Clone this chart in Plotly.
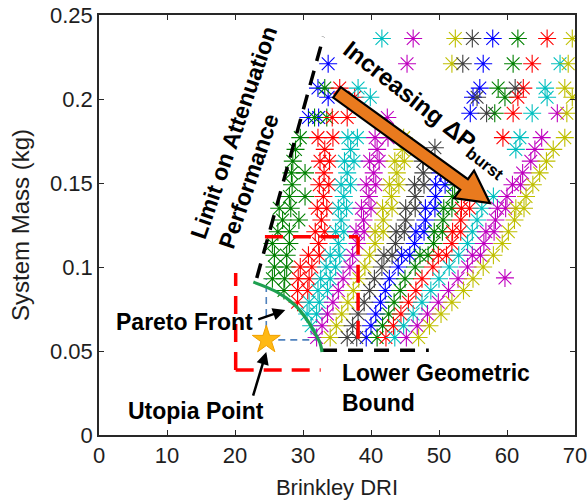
import math
import plotly.graph_objects as go

# ---------------- data ----------------
blue_pts = [(39.3, .058), (40.0, .065), (40.7, .072), (41.4, .079), (42.1, .086), (42.7, .093),
            (44.0, .100), (44.5, .107), (45.7, .107), (46.4, .114), (46.6, .121),
            (47.8, .121), (48.0, .128), (48.0, .135), (49.4, .135), (49.5, .142),
            (49.5, .149), (50.9, .149), (50.2, .156), (30.8, .189), (32.3, .189),
            (54.6, .1915), (33.7, .201), (55.0, .201), (32.2, .2065), (56.0, .2065), (33.7, .221),
            (56.5, .221), (57.9, .236)]
green_pts = [(40.9, .058), (41.7, .065), (42.6, .072), (43.4, .079), (27.2, .086), (44.3, .086),
             (25.5, .093), (27.3, .093), (45.0, .093), (25.8, .100), (27.6, .100), (46.5, .100),
             (25.8, .107), (27.6, .107), (47.2, .107), (48.4, .107), (25.5, .114),
             (28.0, .114), (49.2, .114), (26.3, .121), (28.0, .121),
             (49.3, .121), (50.5, .121), (27.0, .128), (29.4, .128),
             (50.6, .128), (26.5, .135), (28.2, .135), (50.7, .135),
             (51.9, .135), (28.0, .142), (30.3, .142), (52.0, .142),
             (28.4, .149), (52.3, .149), (28.3, .156), (30.3, .156),
             (28.5, .163), (28.9, .170), (29.6, .177), (31.7, .189),
             (33.5, .189), (58.2, .1915), (59.7, .201), (33.2, .2065), (58.7, .2065), (60.9, .221),
             (61.6, .236)]
red_pts = [(42.2, .058), (43.3, .065), (44.4, .072), (29.2, .079), (45.5, .079), (29.2, .086),
           (30.7, .086), (46.6, .086), (29.3, .093), (30.9, .093), (47.5, .093), (29.6, .100),
           (31.3, .100), (49.1, .100), (30.8, .107), (32.4, .107), (49.9, .107), (51.1, .107),
           (32.3, .114), (51.9, .114), (31.8, .121), (33.2, .121),
           (52.0, .121), (53.2, .121), (32.7, .128), (53.2, .128),
           (32.1, .135), (33.5, .135), (53.3, .135), (54.5, .135), (33.0, .142),
           (54.5, .142), (32.4, .149), (33.8, .149), (33.1, .156),
           (32.5, .163), (33.9, .163), (33.2, .170), (32.2, .177), (34.4, .177),
           (59.4, .177), (34.3, .189), (36.5, .189), (60.9, .1915), (37.6, .201), (61.6, .201),
           (35.4, .2065), (62.4, .2065), (63.7, .221), (65.9, .236)]
cyan_pts = [(43.5, .058), (31.2, .065), (44.8, .065), (30.6, .072), (32.0, .072), (46.2, .072),
            (30.9, .079), (32.4, .079), (47.5, .079), (32.2, .086), (33.6, .086), (48.8, .086),
            (32.6, .093), (34.0, .093), (50.0, .093), (33.4, .100), (34.8, .100), (51.5, .100),
            (34.0, .107), (35.4, .107), (52.9, .107), (35.2, .114), (54.2, .114),
            (34.8, .121), (36.0, .121), (54.9, .121), (35.6, .128), (55.6, .128),
            (35.2, .135), (36.4, .135), (56.3, .135), (36.0, .142),
            (58.0, .142), (35.6, .149), (37.0, .149), (36.5, .156), (36.1, .163),
            (37.5, .163), (37.0, .170), (61.3, .170), (36.6, .177), (38.0, .177),
            (61.9, .177), (63.7, .1915), (39.9, .201), (65.9, .201), (38.1, .2065), (65.6, .2065),
            (67.8, .221), (41.6, .236)]
magenta_pts = [(32.0, .058), (45.2, .058), (32.8, .065), (46.8, .065), (33.6, .072), (48.3, .072),
               (34.4, .079), (49.9, .079), (35.2, .086), (51.4, .086), (35.9, .093), (52.8, .093),
               (36.9, .100), (54.2, .100), (37.3, .107), (54.9, .107), (56.1, .107), (38.0, .114),
               (56.6, .114), (37.8, .121), (39.0, .121), (56.9, .121),
               (58.1, .121), (38.9, .128), (58.3, .128), (38.6, .135),
               (40.0, .135), (58.6, .135), (59.8, .135), (39.7, .142), (60.0, .142),
               (39.3, .149), (40.7, .149), (60.8, .149), (62.0, .149), (40.4, .156),
               (62.3, .156), (39.8, .163), (41.2, .163), (63.5, .163),
               (40.9, .170), (64.1, .170), (40.6, .177), (42.5, .177), (65.1, .177),
               (42.4, .189), (67.4, .1915), (45.3, .221), (46.2, .236), (59.7, .0935)]
yellow_pts = [(34.0, .058), (47.0, .058), (34.9, .065), (48.6, .065), (35.7, .072), (50.3, .072),
              (36.6, .079), (51.9, .079), (37.4, .086), (53.6, .086), (38.2, .093), (55.0, .093),
              (39.1, .100), (56.5, .100), (39.8, .107), (58.0, .107), (40.6, .114),
              (59.3, .114), (40.6, .121), (41.8, .121), (60.2, .121), (41.8, .128),
              (61.1, .128), (41.7, .135), (43.1, .135), (61.3, .135), (62.5, .135),
              (43.0, .142), (62.8, .142), (42.7, .149), (44.1, .149),
              (63.8, .149), (43.8, .156), (64.8, .156), (43.5, .163), (44.9, .163),
              (65.8, .163), (44.6, .170), (66.8, .170), (44.8, .177), (68.5, .177),
              (68.8, .1915), (69.6, .201), (68.5, .2065), (51.9, .221), (69.0, .221), (52.4, .236),
              (69.6, .236)]
black_pts = [(36.5, .058), (37.9, .058), (37.3, .065), (38.1, .072), (39.0, .079), (39.8, .086),
             (40.5, .093), (41.6, .100), (41.9, .107), (43.1, .107), (43.6, .114),
             (43.7, .121), (44.9, .121), (45.1, .128), (45.1, .135), (46.5, .135),
             (46.5, .142), (46.4, .149), (47.8, .149), (47.7, .156),
             (47.6, .163), (49.4, .171), (57.0, .1915), (55.6, .201), (61.2, .2065), (53.5, .221),
             (54.9, .236)]

pareto_x = [22.7, 26.2, 28.8, 30.6, 31.5, 32.5, 32.8]
pareto_y = [0.091, 0.085, 0.0774, 0.0685, 0.0625, 0.0548, 0.0494]
utopia = (24.6, 0.0566)
limit_line = ([23.2, 33.0], [0.0935, 0.237])
lower_bound = ([32.8, 48.5], [0.0505, 0.0505])
red_box = (20.1, 38.1, 0.0387, 0.118)

x_ticks = [0, 10, 20, 30, 40, 50, 60, 70]
y_ticks = [0, 0.05, 0.1, 0.15, 0.2, 0.25]
y_tick_text = ["0", "0.05", "0.1", "0.15", "0.2", "0.25"]

series = [
    ("b", blue_pts, "rgb(0,0,255)"),
    ("g", green_pts, "rgb(0,128,0)"),
    ("r", red_pts, "rgb(255,0,0)"),
    ("c", cyan_pts, "rgb(0,191,191)"),
    ("m", magenta_pts, "rgb(191,0,191)"),
    ("y", yellow_pts, "rgb(191,191,0)"),
    ("k", black_pts, "rgb(64,64,64)"),
]

fig = go.Figure()
for name, pts, col in series:
    fig.add_trace(go.Scatter(
        x=[p[0] for p in pts], y=[p[1] for p in pts], mode="markers", name=name,
        marker=dict(symbol="asterisk-open", size=15, color=col, line=dict(color=col, width=1.1)),
        showlegend=False, hoverinfo="skip"))

# red dashed box (partially drawn)
x0, x1, y0, y1 = red_box
red_dash = dict(color="rgb(255,0,0)", width=3.5, dash="18px,10px")
for xs, ys in [([x0, x0], [y0, 0.0964]), ([x0, 32.6], [y0, y0]),
               ([24.4, x1], [y1, y1]), ([x1, x1], [y1, 0.055])]:
    fig.add_trace(go.Scatter(x=xs, y=ys, mode="lines", line=red_dash, showlegend=False, hoverinfo="skip"))

# blue dashed guides from the utopia point
blue_dash = dict(color="rgb(79,129,189)", width=1.6, dash="7px,5px")
fig.add_trace(go.Scatter(x=[utopia[0], utopia[0]], y=[utopia[1], pareto_y[0] + 0.002], mode="lines",
                         line=blue_dash, showlegend=False, hoverinfo="skip"))
fig.add_trace(go.Scatter(x=[utopia[0], 31.9], y=[utopia[1], utopia[1]], mode="lines",
                         line=blue_dash, showlegend=False, hoverinfo="skip"))

# black dashed bounds
fig.add_trace(go.Scatter(x=limit_line[0], y=limit_line[1], mode="lines",
                         line=dict(color="black", width=3.5, dash="15px,10px"), showlegend=False, hoverinfo="skip"))
fig.add_trace(go.Scatter(x=lower_bound[0], y=lower_bound[1], mode="lines",
                         line=dict(color="black", width=3.5, dash="15px,11px"), showlegend=False, hoverinfo="skip"))

# pareto front
fig.add_trace(go.Scatter(x=pareto_x, y=pareto_y, mode="lines", line=dict(color="rgb(30,160,80)", width=3.2, shape="spline"),
                         showlegend=False, hoverinfo="skip"))

# utopia star
fig.add_trace(go.Scatter(x=[utopia[0]], y=[utopia[1]], mode="markers",
                         marker=dict(symbol="star", size=21, color="rgb(255,185,20)", line=dict(color="rgb(240,160,0)", width=1)),
                         showlegend=False, hoverinfo="skip"))

# big orange arrow (computed in pixel space)
SX, SY = 476 / 70.0, 420 / 0.25
A = (35.0, 0.204)
B = (57.5, 0.138)
ax_, ay_ = A[0] * SX, A[1] * SY
bx_, by_ = B[0] * SX, B[1] * SY
Ln = math.hypot(bx_ - ax_, by_ - ay_)
ux, uy = (bx_ - ax_) / Ln, (by_ - ay_) / Ln
nx, ny = -uy, ux
hw, HW, HL = 6.5, 17.0, 32.0
bsx, bsy = bx_ - ux * HL, by_ - uy * HL
poly = [(ax_ + nx * hw, ay_ + ny * hw), (bsx + nx * hw, bsy + ny * hw), (bsx + nx * HW, bsy + ny * HW),
        (bx_, by_), (bsx - nx * HW, bsy - ny * HW), (bsx - nx * hw, bsy - ny * hw), (ax_ - nx * hw, ay_ - ny * hw)]
path = "M " + " L ".join(f"{px / SX:.4f},{py / SY:.5f}" for px, py in poly) + " Z"
fig.add_shape(type="path", path=path, xref="x", yref="y", fillcolor="rgb(233,122,30)",
              line=dict(color="black", width=2.2), layer="above")

FONT = "Liberation Sans, Arial, sans-serif"
bold = dict(family=FONT, size=23, color="black")
fig.add_annotation(x=21.9, y=0.1775, xref="x", yref="y", text="<b>Limit on Attenuation<br>Performance</b>",
                   showarrow=False, textangle=-71, align="left", font=bold)
fig.add_annotation(x=47.9, y=0.1935, xref="x", yref="y", text="<b>Increasing \u0394P<sub>burst</sub></b>",
                   showarrow=False, textangle=38, font=dict(family=FONT, size=24, color="black"))
fig.add_annotation(x=27.4, y=0.0744, ax=23.2, ay=0.0685, xref="x", yref="y", axref="x", ayref="y",
                   text="", showarrow=True, arrowhead=2, arrowsize=1, arrowwidth=2.5, arrowcolor="black")
fig.add_annotation(x=12.5, y=0.0673, xref="x", yref="y", text="<b>Pareto Front</b>", showarrow=False, font=bold)
fig.add_annotation(x=24.6, y=0.0494, ax=22.6, ay=0.0226, xref="x", yref="y", axref="x", ayref="y",
                   text="", showarrow=True, arrowhead=2, arrowsize=1, arrowwidth=2.5, arrowcolor="black")
fig.add_annotation(x=14.3, y=0.0143, xref="x", yref="y", text="<b>Utopia Point</b>", showarrow=False, font=bold)
fig.add_annotation(x=35.4, y=0.028, xref="x", yref="y", text="<b>Lower Geometric<br>Bound</b>",
                   showarrow=False, xanchor="left", yanchor="middle", align="left", font=bold)

axis_common = dict(showgrid=False, zeroline=False, showline=True, linecolor="rgb(40,40,40)", linewidth=1.5,
                   mirror="ticks", ticks="inside", ticklen=5, tickwidth=1.2, tickcolor="rgb(40,40,40)",
                   tickfont=dict(family=FONT, size=22, color="rgb(30,30,30)"))
fig.update_xaxes(range=[0, 70], tickvals=x_ticks, ticktext=[str(v) for v in x_ticks],
                 title=dict(text="Brinkley DRI", font=dict(family=FONT, size=22, color="rgb(30,30,30)"), standoff=12),
                 **axis_common)
fig.update_yaxes(range=[0, 0.25], tickvals=y_ticks, ticktext=y_tick_text,
                 title=dict(text="System Mass (kg)", font=dict(family=FONT, size=24, color="rgb(30,30,30)"), standoff=14),
                 **axis_common)
fig.update_layout(width=588, height=502, margin=dict(l=99, r=13, t=15, b=67, autoexpand=False),
                  plot_bgcolor="white", paper_bgcolor="white")
fig.write_html("out.html", config={"displayModeBar": False},
               post_script="document.body.style.margin='0px';")
